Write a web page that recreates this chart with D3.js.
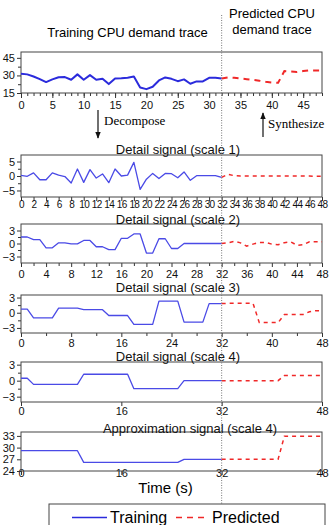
<!DOCTYPE html>
<html>
<head>
<meta charset="utf-8">
<script src="https://cdn.jsdelivr.net/npm/d3@7"></script>
<style>
  body { margin: 0; background: #fff; }
  svg { display: block; font-family: "Liberation Sans", Arial, sans-serif; }
</style>
</head>
<body>
<div id="chart"></div>
<script>
// CPU demand trace (training t = 0..32, predicted t = 32..48)
const traceTrain = [31.5, 30.9, 29.1, 26.9, 24.3, 26.6, 28.5, 28.6, 26.3, 30.9, 26.3, 30.3, 26.3, 27.1, 22.6, 27.4, 27.5,
  28, 29, 19.7, 18.3, 20.3, 25.7, 28.3, 27.1, 25.1, 26.6, 22.9, 24.9, 24.9, 28, 28, 27.4];
const tracePred = [27.4, 28.3, 28, 27.4, 26.8, 26.2, 25.5, 24.6, 24, 23.7, 33.7, 33.3, 32.9, 33.7, 34.3, 34.3, 34.3];

// Detail signals
const d1Train = [0.2, -0.1, 1.1, -1.3, -1.3, 1.1, 0.3, -0.2, -2.4, 2.4, -2.2, 2.2, -0.7, 0.7, -2.3, 2.4, 0,
  0.3, 4.7, -4.6, -1.1, 0.9, -0.9, 0.9, 0.8, -0.6, 1.4, -1.5, 0.1, 0.1, 0.1, 0.1, -0.5];
const d1Pred = [-0.5, 0.6, 0.1, 0, 0, 0, 0, 0, 0, 0, 0, 0, 0, 0, 0, -0.1, -0.1];

const d2Train = [1.5, 1.5, 0.9, 0.9, -1, -1, 0.15, 0.15, -0.1, -0.1, 0.7, 0.7, -0.75, -0.75, -1.4, -1.4, 1.2,
  1.2, 2.2, 2.2, -2.2, -2.2, 1.1, 1.1, -1.15, -1.15, 0, 0, 0, 0, 0, 0, 0];
const d2Pred = [0, 0.15, 0.5, 0.15, -0.6, -0.15, 0.25, 0.25, -0.15, -0.3, 0.2, 0.4, -0.4, -0.3, 0.4, 0.4, 0.4];

const d3Train = [0.7, 0.7, -1, -1, -1, -1, 0.9, 0.9, 0.9, 0.9, 0.6, 0.6, 0.6, 0.6, -0.55, -0.55, -0.55,
  -0.55, -2.3, -2.3, -2.3, -2.3, 2.3, 2.3, 2.3, 2.3, -1.85, -1.85, -1.85, -1.85, 1.8, 1.8, 1.8];
const d3Pred = [1.8, 1.85, 1.85, 1.85, 1.85, 1.85, -1.95, -1.95, -1.95, -1.95, -0.35, -0.35, -0.35, -0.35, 0.2, 0.4, 0.4];

const d4Train = [0.45, 0.45, -0.7, -0.7, -0.7, -0.7, -0.7, -0.7, -0.7, -0.7, 1.2, 1.2, 1.2, 1.2, 1.2, 1.2, 1.2,
  1.2, -1.5, -1.5, -1.5, -1.5, -1.5, -1.5, -1.5, -1.5, 0, 0, 0, 0, 0, 0, 0];
const d4Pred = [0, 0, 0, 0, 0, 0, 0, 0, 0, 0, 0.95, 0.95, 0.95, 0.95, 0.95, 0.95, 0.95];

// Approximation signal
const apTrain = [29.2, 29.2, 29.2, 29.2, 29.2, 29.2, 29.2, 29.2, 29.2, 29.2, 26.2, 26.2, 26.2, 26.2, 26.2, 26.2, 26.2,
  26.2, 26.2, 26.2, 26.2, 26.2, 26.2, 26.2, 26.2, 26.2, 27, 27, 27, 27, 27, 27, 27];
const apPred = [27, 27, 27, 27, 27, 27, 27, 27, 27, 27, 32.9, 32.9, 32.9, 32.9, 32.9, 32.9, 32.9];

const titles = ["Detail signal (scale 1)", "Detail signal (scale 2)", "Detail signal (scale 3)",
  "Detail signal (scale 4)", "Approximation signal (scale 4)"];
const legendLabels = ["Training", "Predicted"];

const width = 331, height = 525;
const left = 21, right = 322;
const splitT = 32;

const svg = d3.select("#chart").append("svg")
  .attr("width", width)
  .attr("height", height);

const x = d3.scaleLinear().domain([0, 48]).range([left, right]);

const panels = [
  { train: traceTrain, pred: tracePred, top: 52, bottom: 93, dom: [15, 50], yt: [15, 30, 45], ym: [22.5, 37.5],
    xt: d3.range(0, 46, 5), xm: d3.range(0, 49, 1), lab: 109, thick: true },
  { train: d1Train, pred: d1Pred, top: 155, bottom: 197, dom: [-7.25, 7.25], yt: [-5, 0, 5], ym: [-2.5, 2.5],
    xt: d3.range(0, 49, 2), xm: [], lab: 207.5, fs: 10, ls: -0.6, title: titles[0], tb: 153.5, tx: 178 },
  { train: d2Train, pred: d2Pred, top: 224, bottom: 263, dom: [-4.5, 4.5], yt: [-3, 0, 3], ym: [-1.5, 1.5],
    xt: d3.range(0, 49, 4), xm: d3.range(2, 49, 4), lab: 277.5, title: titles[1], tb: 223.5, tx: 178 },
  { train: d3Train, pred: d3Pred, top: 295, bottom: 333, dom: [-4, 3.5], yt: [-3, 0, 3], ym: [-1.5, 1.5],
    xt: d3.range(0, 49, 8), xm: d3.range(4, 49, 8), lab: 347, title: titles[2], tb: 291.5, tx: 178 },
  { train: d4Train, pred: d4Pred, top: 362, bottom: 402, dom: [-4, 3.5], yt: [-3, 0, 3], ym: [-1.5, 1.5],
    xt: d3.range(0, 49, 16), xm: [], lab: 415, title: titles[3], tb: 360.5, tx: 178 },
  { train: apTrain, pred: apPred, top: 432, bottom: 471, dom: [24, 34], yt: [24, 27, 30, 33], ym: [],
    xt: d3.range(0, 49, 16), xm: [], lab: 477, title: titles[4], tb: 432.5, tx: 190 }
];

const blue = "#2b2bdc", lightBlue = "#4a4ae6", red = "#f02828";

panels.forEach(p => {
  const y = d3.scaleLinear().domain(p.dom).range([p.bottom, p.top]);
  const g = svg.append("g");

  // minor ticks
  g.append("g")
    .attr("transform", `translate(0,${p.bottom})`)
    .call(d3.axisBottom(x).tickValues(p.xm).tickSize(3).tickFormat(""))
    .call(a => a.select(".domain").remove())
    .selectAll("line").attr("stroke", "#333");
  g.append("g")
    .attr("transform", `translate(${left},0)`)
    .call(d3.axisLeft(y).tickValues(p.ym).tickSize(3).tickFormat(""))
    .call(a => a.select(".domain").remove())
    .selectAll("line").attr("stroke", "#333");

  // major ticks
  const xa = g.append("g")
    .attr("transform", `translate(0,${p.bottom})`)
    .call(d3.axisBottom(x).tickValues(p.xt).tickSize(p.thick ? 5 : 4).tickFormat(d3.format("d")));
  xa.select(".domain").remove();
  xa.selectAll("line").attr("stroke", "#333");
  xa.selectAll("text")
    .attr("y", p.lab - p.bottom)
    .attr("dy", null)
    .style("font-size", (p.fs || 11) + "px")
    .style("letter-spacing", (p.ls || 0) + "px")
    .attr("fill", "#111");

  const ya = g.append("g")
    .attr("transform", `translate(${left},0)`)
    .call(d3.axisLeft(y).tickValues(p.yt).tickSize(4).tickPadding(2));
  ya.select(".domain").remove();
  ya.selectAll("line").attr("stroke", "#333");
  ya.selectAll("text").style("font-size", "11px").attr("fill", "#111");

  // frame
  g.append("rect")
    .attr("x", left).attr("y", p.top)
    .attr("width", right - left).attr("height", p.bottom - p.top)
    .attr("fill", "none").attr("stroke", "#444").attr("stroke-width", 1);

  const line = d3.line().x(d => x(d[0])).y(d => y(d[1]));
  const trainPts = p.train.map((v, i) => [i, v]);
  const predPts = p.pred.map((v, i) => [splitT + i, v]);

  g.append("path")
    .datum(trainPts)
    .attr("fill", "none")
    .attr("stroke", p.thick ? blue : lightBlue)
    .attr("stroke-width", p.thick ? 2 : 1.3)
    .attr("stroke-linejoin", "round")
    .attr("d", line);

  g.append("path")
    .datum(predPts)
    .attr("fill", "none")
    .attr("stroke", red)
    .attr("stroke-width", p.thick ? 2 : 1.5)
    .attr("stroke-dasharray", p.thick ? "6,5" : "4,4")
    .attr("d", line);

  if (p.title) {
    g.append("text")
      .attr("x", p.tx).attr("y", p.tb)
      .attr("text-anchor", "middle")
      .style("font-size", "13px")
      .attr("fill", "#111")
      .text(p.title);
  }
});

// split line between training and prediction
svg.append("line")
  .attr("x1", x(splitT)).attr("x2", x(splitT))
  .attr("y1", 15).attr("y2", 504)
  .attr("stroke", "#777")
  .attr("stroke-width", 1)
  .attr("stroke-dasharray", "1,1.5");

// top headers
svg.append("text")
  .attr("x", 127.5).attr("y", 37)
  .attr("text-anchor", "middle")
  .style("font-size", "13px")
  .text("Training CPU demand trace");

svg.append("text")
  .attr("x", 272).attr("y", 17.5)
  .attr("text-anchor", "middle")
  .style("font-size", "13px")
  .text("Predicted CPU");
svg.append("text")
  .attr("x", 272).attr("y", 33.5)
  .attr("text-anchor", "middle")
  .style("font-size", "13px")
  .text("demand trace");

// arrows
const defs = svg.append("defs");
defs.append("marker")
  .attr("id", "head")
  .attr("viewBox", "0 0 10 10")
  .attr("refX", 9).attr("refY", 5)
  .attr("markerWidth", 6).attr("markerHeight", 6)
  .attr("orient", "auto")
  .append("path")
  .attr("d", "M0,1 L10,5 L0,9 z")
  .attr("fill", "#111");

svg.append("line")
  .attr("x1", 98).attr("x2", 98).attr("y1", 110).attr("y2", 138)
  .attr("stroke", "#111").attr("stroke-width", 1.2)
  .attr("marker-end", "url(#head)");
svg.append("text")
  .attr("x", 104).attr("y", 124.5)
  .style("font-family", "'Liberation Serif', 'Times New Roman', serif")
  .style("font-size", "13px")
  .text("Decompose");

svg.append("line")
  .attr("x1", 263).attr("x2", 263).attr("y1", 137).attr("y2", 113)
  .attr("stroke", "#111").attr("stroke-width", 1.2)
  .attr("marker-end", "url(#head)");
svg.append("text")
  .attr("x", 268).attr("y", 128)
  .style("font-family", "'Liberation Serif', 'Times New Roman', serif")
  .style("font-size", "13px")
  .text("Synthesize");

// x axis title
svg.append("text")
  .attr("x", 165.5).attr("y", 493)
  .attr("text-anchor", "middle")
  .style("font-size", "15px")
  .text("Time (s)");

// legend
const legend = svg.append("g");
legend.append("rect")
  .attr("x", 49).attr("y", 504)
  .attr("width", 276).attr("height", 30)
  .attr("fill", "#fff").attr("stroke", "#444");
legend.append("line")
  .attr("x1", 72).attr("x2", 107).attr("y1", 517.5).attr("y2", 517.5)
  .attr("stroke", blue).attr("stroke-width", 1.5);
legend.append("text")
  .attr("x", 110).attr("y", 523)
  .style("font-size", "16px")
  .text(legendLabels[0]);
legend.append("line")
  .attr("x1", 176).attr("x2", 206).attr("y1", 517.5).attr("y2", 517.5)
  .attr("stroke", red).attr("stroke-width", 1.5)
  .attr("stroke-dasharray", "6,5");
legend.append("text")
  .attr("x", 212).attr("y", 523)
  .style("font-size", "16px")
  .text(legendLabels[1]);
</script>
</body>
</html>
